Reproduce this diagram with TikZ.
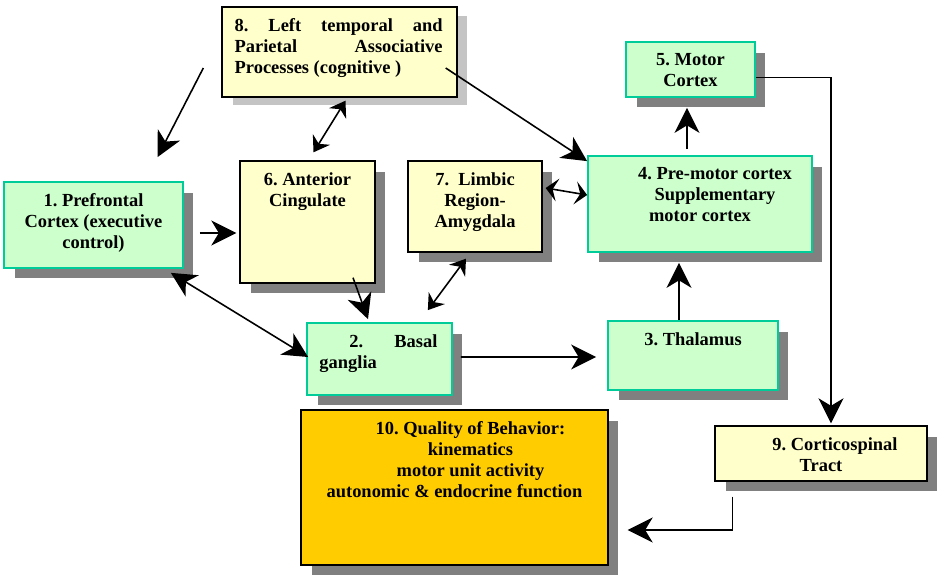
\documentclass[tikz,border=0pt]{standalone}
\usepackage{fontspec}
\setmainfont{Liberation Serif}
\usetikzlibrary{arrows.meta,shadows,calc}

\definecolor{boxgreen}{HTML}{CCFFCC}
\definecolor{edgegreen}{HTML}{00CC99}
\definecolor{boxyellow}{HTML}{FFFFCC}
\definecolor{boxorange}{HTML}{FFCC00}
\definecolor{shadegray}{HTML}{808080}
\definecolor{lightshade}{HTML}{C4C4C4}

\begin{document}
\begin{tikzpicture}[x=0.02cm,y=-0.02cm,
  box/.style={rectangle,inner sep=0pt,line width=0.8pt,
    drop shadow={shadow xshift=0.21cm,shadow yshift=-0.21cm,fill=shadegray,opacity=1}},
  cortexbox/.style={box,draw=edgegreen,fill=boxgreen,line width=1pt},
  relaybox/.style={box,draw=black,fill=boxyellow},
  outbox/.style={box,draw=black,fill=boxorange},
  lbl/.style={anchor=north,yshift=-0.24cm,inner sep=0pt,align=center,
    font=\bfseries\fontsize{10.5}{11.9}\selectfont\frenchspacing},
  bigarrow/.style={draw,line width=0.9pt,-{Stealth[length=5mm,width=5mm,inset=1.5mm]}},
  bigboth/.style={draw,line width=0.9pt,{Stealth[length=5mm,width=5mm,inset=1.5mm]}-{Stealth[length=5mm,width=5mm,inset=1.5mm]}},
  midboth/.style={draw,line width=0.9pt,{Stealth[length=3mm,width=4mm,inset=1mm]}-{Stealth[length=3mm,width=4mm,inset=1mm]}},
  smallboth/.style={draw,line width=0.9pt,{Stealth[length=2.4mm,width=4.6mm,inset=1mm]}-{Stealth[length=2.4mm,width=4.6mm,inset=1mm]}}]
\useasboundingbox (0,0) rectangle (938,575);

% boxes
\node[rectangle,inner sep=0pt,line width=0.8pt,draw=black,fill=boxyellow,
  drop shadow={shadow xshift=0.21cm,shadow yshift=-0.17cm,fill=lightshade,opacity=1},
  minimum width=4.70cm,minimum height=1.80cm,
  label={[lbl,anchor=north west,xshift=0.26cm,align=justify,text width=4.16cm]north west:{8. Left temporal and\linebreak Parietal Associative\linebreak Processes (cognitive )}}] (n8) at (339.5,52) {};
\node[cortexbox,minimum width=3.58cm,minimum height=1.72cm,
  label={[lbl]north:{1. Prefrontal\\Cortex (executive\\control)}}] (n1) at (93.5,225) {};
\node[relaybox,minimum width=2.70cm,minimum height=2.44cm,
  label={[lbl]north:{6. Anterior\\Cingulate}}] (n6) at (307.5,222) {};
\node[relaybox,minimum width=2.68cm,minimum height=1.82cm,
  label={[lbl]north:{7.~ Limbic\\Region-\\Amygdala}}] (n7) at (475,206.5) {};
\node[cortexbox,minimum width=4.48cm,minimum height=1.92cm,
  label={[lbl,xshift=0.3cm]north:{4. Pre-motor cortex\\Supplementary\\motor cortex\hspace*{0.6cm}}}] (n4) at (700,204) {};
\node[cortexbox,minimum width=2.58cm,minimum height=1.10cm,
  label={[lbl]north:{5. Motor\\Cortex}}] (n5) at (690.5,69.5) {};
\node[cortexbox,minimum width=2.90cm,minimum height=1.44cm,
  label={[lbl,anchor=north west,xshift=0.26cm,align=justify,text width=2.36cm]north west:{\hspace*{0.6cm}2. Basal\linebreak ganglia}}] (n2) at (379.5,359) {};
\node[cortexbox,minimum width=3.40cm,minimum height=1.38cm,
  label={[lbl]north:{3. Thalamus}}] (n3) at (693,355.5) {};
\node[outbox,minimum width=6.14cm,minimum height=3.10cm,
  label={[lbl]north:{\hspace*{0.64cm}10. Quality of Behavior:\\\hspace*{0.64cm}kinematics\\\hspace*{0.64cm}motor unit activity\\autonomic \& endocrine function}}] (n10) at (454.5,487.5) {};
\node[relaybox,minimum width=4.24cm,minimum height=1.10cm,
  label={[lbl]north:{\hspace*{0.56cm}9. Corticospinal\\Tract}}] (n9) at (821,453.5) {};

% connections
\coordinate (c8) at ($(n8.west)+(-18,16)$);
\coordinate (c1) at ($(n1.north)+(64,-24)$);
\draw[bigarrow] (c8) -- (c1);
\draw[midboth] ($(n8.south)+(6,3)$) -- ($(n6.north)+(6,-8)$);
\draw[bigarrow] ($(n8.east)+(-12,16)$) -- ($(n4.north west)+(0,6)$);
\draw[bigarrow] ($(n1.east)+(16,8)$) -- ($(n6.west)+(-3,11)$);
\draw[bigboth] ($(n1.south east)+(-13,4)$) -- ($(n2.west)+(2,-2)$);
\draw[bigarrow] ($(n6.south)+(45.5,-6)$) -- ($(n2.north)+(-11.5,-3)$);
\draw[midboth] ($(n7.south)+(-9,6)$) -- ($(n2.north east)+(-25,-12)$);
\draw[smallboth] ($(n7.east)+(3,-18.5)$) -- ($(n4.west)+(0,-9)$);
\draw[bigarrow] ($(n4.north)+(-13,-6)$) -- ($(n5.south)+(-3.5,10)$);
\draw[bigarrow] ($(n3.north)+(-14,0)$) -- ($(n4.south)+(-21,10)$);
\draw[bigarrow] ($(n2.east)+(8,-2)$) -- ($(n3.west)+(-11,1.5)$);
\draw[bigarrow] ($(n5.east)+(0,8)$) -| ($(n9.north)+(10,-2)$);
\draw[bigarrow] ($(n9.south west)+(18,15)$) |- ($(n10.east)+(19,42.5)$);
\end{tikzpicture}
\end{document}
